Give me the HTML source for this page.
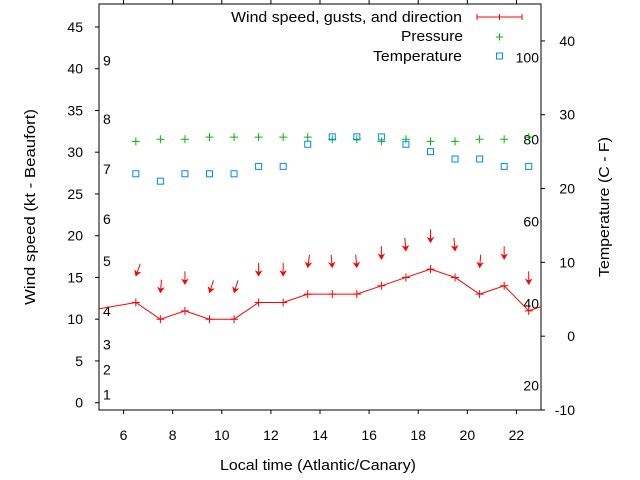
<!DOCTYPE html>
<html><head><meta charset="utf-8"><style>
body{margin:0;background:#fff;}
svg{display:block;font-family:"Liberation Sans",sans-serif;}
</style></head><body>
<svg id="chart" width="640" height="480" viewBox="0 0 640 480" xmlns="http://www.w3.org/2000/svg">
<g id="grid"></g>
<rect x="99" y="4" width="442" height="406" fill="none" stroke="#000" stroke-width="1"/>
<g id="marks"></g>
<text x="318" y="470" font-size="14.5" text-anchor="middle" textLength="196" lengthAdjust="spacingAndGlyphs">Local time (Atlantic/Canary)</text>
<text transform="translate(35,207) rotate(-90)" font-size="14.5" text-anchor="middle" textLength="196" lengthAdjust="spacingAndGlyphs">Wind speed (kt - Beaufort)</text>
<text transform="translate(609,207) rotate(-90)" font-size="14.5" text-anchor="middle" textLength="140" lengthAdjust="spacingAndGlyphs">Temperature (C - F)</text>
<g font-size="14.5">
<text x="231" y="22" textLength="231" lengthAdjust="spacingAndGlyphs">Wind speed, gusts, and direction</text>
<path d="M477 17H522M477 14V20M522 14V20M499.5 14V20" stroke="#f00" stroke-width="1" fill="none"/>
<text x="401" y="41" textLength="62" lengthAdjust="spacingAndGlyphs">Pressure</text>
<path d="M496 37H503M499.5 33.5V40.5" stroke="#0b0" stroke-width="1"/>
<text x="373" y="61" textLength="89" lengthAdjust="spacingAndGlyphs">Temperature</text>
<rect x="496.5" y="53" width="6" height="6" fill="none" stroke="#08f" stroke-width="1"/>
</g>
</svg>
<script>
const hours=[6.5,7.5,8.5,9.5,10.5,11.5,12.5,13.5,14.5,15.5,16.5,17.5,18.5,19.5,20.5,21.5,22.5];
const windKt=[12,10,11,10,10,12,12,13,13,13,14,15,16,15,13,14,11];
const gustKt=[15,13,14,13,13,15,15,16,16,16,17,18,19,18,16,17,14];
const windDir=[20,5,0,18,18,0,0,8,355,355,0,355,0,355,5,0,0];
const pressure=[31.3,31.55,31.55,31.8,31.8,31.8,31.8,31.8,31.55,31.55,31.3,31.55,31.3,31.3,31.55,31.55,31.8];
const tempC=[22,21,22,22,22,23,23,26,27,27,27,26,25,24,24,23,23];
const windEdgeHours=[4.5,23.5];
const windEdgeKt=[11,12];
const xTicks=[6,8,10,12,14,16,18,20,22];
const yTicks=[0,5,10,15,20,25,30,35,40,45];
const y2Ticks=[-10,0,10,20,30,40];
const beaufortLabels=["1","2","3","4","5","6","7","8","9"];
const beaufortKt=[1,4,7,11,17,22,28,34,41];
const fLabels=["20","40","60","80","100"];
const fValues=[20,40,60,80,100];

const L=99,R=541,T=4,B=410;
const X=h=>L+(h-5)/(23-5)*(R-L);
const Y=k=>402.7-k*8.35;
const Y2=c=>B-(c+10)/55*(B-T);
const NS="http://www.w3.org/2000/svg";
const grid=document.getElementById('grid'), marks=document.getElementById('marks');
function mk(tag,attrs,parent){const e=document.createElementNS(NS,tag);for(const k in attrs)e.setAttribute(k,attrs[k]);parent.appendChild(e);return e;}

xTicks.forEach(v=>{
  const t=mk('path',{d:`M${X(v)} ${B}v4M${X(v)} ${T}v-4`,stroke:'#000'},grid);
  
  
  const l=mk('text',{x:X(v),y:440,'font-size':14,'text-anchor':'middle'},grid);
  
  
  l.textContent=v;
});
yTicks.forEach(v=>{
  const t=mk('path',{d:`M${L} ${Y(v)}h-4`,stroke:'#000'},grid);
  
  
  const l=mk('text',{x:83,y:Y(v)+5,'font-size':14,'text-anchor':'end'},grid);
  
  
  l.textContent=v;
});
y2Ticks.forEach(v=>{
  const t=mk('path',{d:`M${R} ${Y2(v)}h4`,stroke:'#000'},grid);
  
  
  const l=mk('text',{x:575,y:Y2(v)+5,'font-size':14,'text-anchor':'end'},grid);
  
  
  l.textContent=v;
});
beaufortLabels.forEach((s,i)=>{
  const l=mk('text',{x:103,y:Y(beaufortKt[i])+5,'font-size':14},grid);
  
  
  l.textContent=s;
});
fLabels.forEach((s,i)=>{
  const c=(fValues[i]-32)*5/9;
  const l=mk('text',{x:539,y:Y2(c)+5,'font-size':14,'text-anchor':'end'},grid);
  
  
  l.textContent=s;
});

const cp=mk('clipPath',{id:'plotclip'},marks);mk('rect',{x:L,y:T,width:R-L,height:B-T},cp);
const g=mk('g',{'clip-path':'url(#plotclip)'},marks);

let pts=[[X(windEdgeHours[0]),Y(windEdgeKt[0])]];
hours.forEach((h,i)=>pts.push([X(h),Y(windKt[i])]));
pts.push([X(windEdgeHours[1]),Y(windEdgeKt[1])]);
const line=mk('polyline',{points:pts.map(p=>p.join(',')).join(' '),fill:'none',stroke:'#f00','stroke-width':1},g);



hours.forEach((h,i)=>{
  const x=X(h),y=Y(windKt[i]);
  const p=mk('path',{d:`M${x-4} ${y}h8M${x} ${y-4}v8`,stroke:'#f00','stroke-width':1},g);
  
  
  const ty=Y(gustKt[i])-1.5, len=13, a=windDir[i]*Math.PI/180;
  const dx=Math.sin(a)*len, dy=-Math.cos(a)*len;
  const ux=-dx/len, uy=-dy/len;
  const px=-uy, py=ux;
  const ar=mk('g',{},g);
  
  
  mk('line',{x1:x+dx,y1:ty+dy,x2:x,y2:ty,stroke:'#f00','stroke-width':1},ar);
  const bx=x-ux*5, by=ty-uy*5;
  mk('polygon',{points:`${x},${ty} ${bx+px*3},${by+py*3} ${x-ux*3.5},${ty-uy*3.5} ${bx-px*3},${by-py*3}`,fill:'#f00',stroke:'#f00','stroke-width':0.6},ar);
  const py2=Y(pressure[i]);
  const pp=mk('path',{d:`M${x-4} ${py2}h8M${x} ${py2-4}v8`,stroke:'#0b0','stroke-width':1},g);
  
  
  const ty2=Y2(tempC[i]);
  const sq=mk('rect',{x:x-3,y:ty2-3,width:6,height:6,fill:'none',stroke:'#08f','stroke-width':1},g);
  
  
});
</script>
</body></html>
